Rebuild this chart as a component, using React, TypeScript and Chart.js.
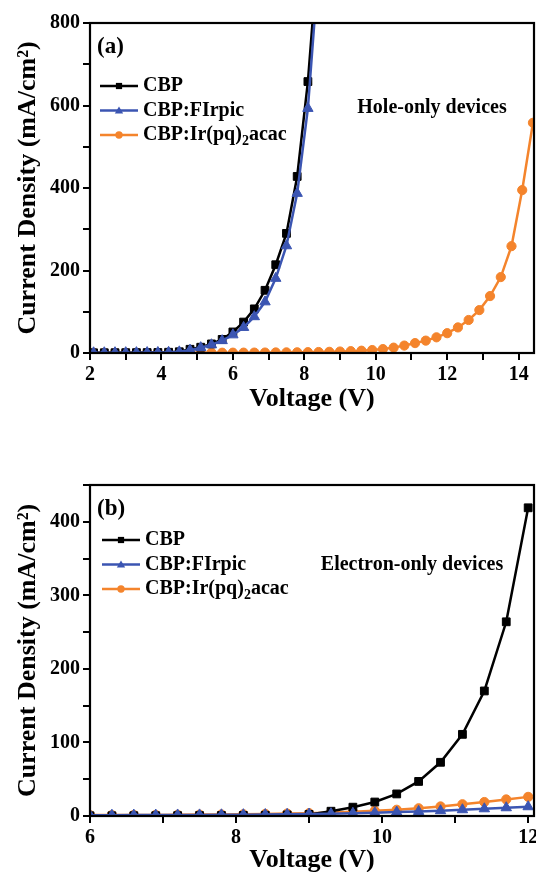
import React, { useEffect, useRef } from "react";
import { Chart, registerables } from "chart.js";

Chart.register(...registerables);

const FAMILY = "'Liberation Serif', 'Times New Roman', serif";

// ---------- Panel (a): hole-only devices ----------
const voltsA_CBP = [2.1, 2.4, 2.7, 3.0, 3.3, 3.6, 3.9, 4.2, 4.5, 4.8, 5.1, 5.4, 5.7, 6.0, 6.3, 6.6, 6.9, 7.2, 7.5, 7.8, 8.1, 8.4];
const holeCBP = [0.5, 0.6, 0.7, 0.8, 0.9, 1.0, 1.2, 1.8, 3, 9, 14, 22, 33, 51, 75, 107, 152, 214, 290, 428, 658, 990];
const holeFIrpic = [0.5, 0.6, 0.7, 0.8, 0.9, 1.0, 1.2, 1.7, 2.8, 7, 13, 20, 30, 44, 62, 88, 124, 181, 260, 387, 593, 938];
const voltsA_Ir = [2.1, 2.4, 2.7, 3.0, 3.3, 3.6, 3.9, 4.2, 4.5, 4.8, 5.1, 5.4, 5.7, 6.0, 6.3, 6.6, 6.9, 7.2, 7.5, 7.8, 8.1, 8.4, 8.7, 9.0, 9.3, 9.6, 9.9, 10.2, 10.5, 10.8, 11.1, 11.4, 11.7, 12.0, 12.3, 12.6, 12.9, 13.2, 13.5, 13.8, 14.1, 14.4];
const holeIr = [0.3, 0.3, 0.3, 0.3, 0.3, 0.4, 0.4, 0.4, 0.5, 0.5, 0.6, 0.6, 0.7, 0.8, 0.9, 1.0, 1.1, 1.3, 1.5, 1.7, 2.0, 2.4, 2.9, 3.6, 4.5, 5.6, 7.2, 9.5, 13, 18, 24, 30, 38, 48, 62, 80, 104, 138, 184, 259, 395, 558];

// ---------- Panel (b): electron-only devices ----------
const voltsB = [6.0, 6.3, 6.6, 6.9, 7.2, 7.5, 7.8, 8.1, 8.4, 8.7, 9.0, 9.3, 9.6, 9.9, 10.2, 10.5, 10.8, 11.1, 11.4, 11.7, 12.0];
const elecCBP = [0.3, 0.3, 0.4, 0.4, 0.5, 0.6, 0.7, 0.8, 1.0, 1.4, 2.2, 6.5, 12, 19, 30, 47, 73, 111, 170, 264, 419];
const elecFIrpic = [1.0, 1.1, 1.2, 1.3, 1.4, 1.5, 1.6, 1.8, 2.0, 2.3, 2.7, 3.1, 3.7, 4.4, 5.3, 6.2, 7.2, 8.5, 9.8, 11.2, 12.6];
const elecIr = [1.2, 1.3, 1.4, 1.5, 1.7, 1.9, 2.1, 2.4, 2.8, 3.3, 3.9, 4.7, 5.7, 7.0, 8.5, 10.5, 13, 16, 19, 22.5, 26];

const seriesNames = ["CBP", "CBP:FIrpic", "CBP:Ir(pq)\u2082acac"];
const seriesColors = ["#000000", "#3B55B2", "#F4842C"];
const seriesStyles = ["rect", "triangle", "circle"];
const seriesRadius = [5.5, 6, 4.6];
const seriesOrder = [2, 1, 3];

const xTitle = "Voltage (V)";
const yTitle = "Current Density (mA/cm\u00B2)";

function pts(xs: number[], ys: number[]) {
  return xs.map((x, i) => ({ x, y: ys[i] }));
}

function drawMarker(ctx: CanvasRenderingContext2D, style: string, x: number, y: number, r: number) {
  ctx.beginPath();
  if (style === "rect") {
    const s = Math.SQRT1_2 * r;
    ctx.rect(x - s, y - s, 2 * s, 2 * s);
  } else if (style === "triangle") {
    const a = (Math.PI * 2) / 3;
    for (let k = 0; k < 3; k++) {
      const ang = -Math.PI / 2 + k * a;
      const px = x + Math.cos(ang) * r;
      const py = y + Math.sin(ang) * r + r * 0.15;
      if (k === 0) ctx.moveTo(px, py);
      else ctx.lineTo(px, py);
    }
    ctx.closePath();
  } else {
    ctx.arc(x, y, r, 0, Math.PI * 2);
  }
  ctx.fill();
}

function drawRich(ctx: CanvasRenderingContext2D, text: string, x: number, y: number, size: number) {
  const parts = text.split("\u2082");
  let cx = x;
  parts.forEach((p, i) => {
    ctx.font = `bold ${size}px ${FAMILY}`;
    ctx.fillText(p, cx, y);
    cx += ctx.measureText(p).width;
    if (i < parts.length - 1) {
      ctx.font = `bold ${Math.round(size * 0.68)}px ${FAMILY}`;
      ctx.fillText("2", cx, y + size * 0.32);
      cx += ctx.measureText("2").width;
    }
  });
}

const decorPlugin = {
  id: "decor",
  afterDraw(chart: any, _args: any, opts: any) {
    const { ctx, chartArea } = chart;
    const { left, top, right, bottom } = chartArea;
    ctx.save();
    ctx.strokeStyle = "#000";
    ctx.lineWidth = 2.2;
    ctx.strokeRect(left, top, right - left, bottom - top);

    ctx.fillStyle = "#000";
    ctx.textBaseline = "middle";
    ctx.textAlign = "left";
    ctx.font = `bold 23px ${FAMILY}`;
    ctx.fillText(opts.panel, left + opts.panelX, top + opts.panelY);

    ctx.textAlign = "center";
    ctx.font = `bold 20px ${FAMILY}`;
    ctx.fillText(opts.note, left + opts.noteX, top + opts.noteY);

    ctx.textAlign = "left";
    chart.data.datasets.forEach((ds: any, i: number) => {
      const y = top + opts.legendY + i * opts.legendGap;
      const x0 = left + opts.legendX;
      const x1 = x0 + 38;
      ctx.strokeStyle = ds.borderColor;
      ctx.lineWidth = 2.5;
      ctx.beginPath();
      ctx.moveTo(x0, y);
      ctx.lineTo(x1, y);
      ctx.stroke();
      ctx.fillStyle = ds.borderColor;
      drawMarker(ctx, ds.pointStyle, (x0 + x1) / 2, y, ds.pointRadius * 0.8);
      ctx.fillStyle = "#000";
      drawRich(ctx, ds.label, x1 + 5, y, 20);
    });
    ctx.restore();
  },
};

function makeDatasets(sets: { xs: number[]; ys: number[] }[]) {
  return sets.map((s, i) => ({
    label: seriesNames[i],
    data: pts(s.xs, s.ys),
    borderColor: seriesColors[i],
    backgroundColor: seriesColors[i],
    pointBackgroundColor: seriesColors[i],
    pointBorderColor: seriesColors[i],
    pointBorderWidth: 1,
    pointStyle: seriesStyles[i],
    pointRadius: seriesRadius[i],
    borderWidth: 2.5,
    tension: 0,
    order: seriesOrder[i],
  }));
}

const zeroPad = () => ({ left: 0, top: 0, right: 0, bottom: 0 });

// canvas is a bit wider than the page so the plot's right edge lands at x=534
const CANVAS_W = 543;
const PAD_RIGHT = 9;

function makeOptions(cfg: {
  xmin: number; xmax: number; ymax: number; ystep: number; ylabelEvery: number;
  xAxisH: number; xTitlePad: number; padTop: number; decor: any;
}) {
  const tickFont = { family: FAMILY, size: 20, weight: "bold" as const };
  const titleFont = { family: FAMILY, size: 26, weight: "bold" as const };
  return {
    responsive: false,
    maintainAspectRatio: false,
    animation: false as const,
    layout: { padding: { top: cfg.padTop, right: PAD_RIGHT, left: 0, bottom: 0 } },
    plugins: {
      legend: { display: false },
      tooltip: { enabled: false },
      decor: cfg.decor,
    },
    scales: {
      x: {
        type: "linear" as const,
        position: "bottom" as const,
        min: cfg.xmin,
        max: cfg.xmax,
        ticks: {
          stepSize: 1,
          autoSkip: false,
          maxRotation: 0,
          includeBounds: false,
          padding: 3,
          color: "#000",
          font: tickFont,
          callback: (v: any) => (Math.abs(v % 2) < 1e-9 ? String(v) : ""),
        },
        grid: { drawOnChartArea: false, drawTicks: true, tickLength: 7, color: "#000", lineWidth: 2 },
        border: { display: true, color: "#000", width: 2 },
        title: { display: true, text: xTitle, color: "#000", font: titleFont, padding: { top: 0, bottom: cfg.xTitlePad } },
        afterFit: (s: any) => {
          s.height = cfg.xAxisH;
          s.paddingLeft = 0;
          s.paddingRight = 0;
          s.paddingTop = 0;
          s.paddingBottom = 0;
          s.getPadding = zeroPad;
        },
      },
      y: {
        type: "linear" as const,
        position: "left" as const,
        min: 0,
        max: cfg.ymax,
        ticks: {
          stepSize: cfg.ystep,
          autoSkip: false,
          padding: 3,
          color: "#000",
          font: tickFont,
          callback: (v: any) => (Math.abs(v % cfg.ylabelEvery) < 1e-9 ? String(v) : ""),
        },
        grid: { drawOnChartArea: false, drawTicks: true, tickLength: 7, color: "#000", lineWidth: 2 },
        border: { display: true, color: "#000", width: 2 },
        title: { display: true, text: yTitle, color: "#000", font: titleFont, padding: { top: 13, bottom: 0 } },
        afterFit: (s: any) => {
          s.width = 90;
          s.paddingLeft = 0;
          s.paddingRight = 0;
          s.paddingTop = 0;
          s.paddingBottom = 0;
          s.getPadding = zeroPad;
        },
      },
    },
  };
}

export default function App() {
  const refA = useRef<HTMLCanvasElement>(null);
  const refB = useRef<HTMLCanvasElement>(null);

  useEffect(() => {
    const chartA = new Chart(refA.current as HTMLCanvasElement, {
      type: "line",
      data: {
        datasets: makeDatasets([
          { xs: voltsA_CBP, ys: holeCBP },
          { xs: voltsA_CBP, ys: holeFIrpic },
          { xs: voltsA_Ir, ys: holeIr },
        ]) as any,
      },
      options: makeOptions({
        xmin: 2, xmax: 14.43, ymax: 800, ystep: 100, ylabelEvery: 200,
        xAxisH: 83, xTitlePad: 21, padTop: 23,
        decor: {
          panel: "(a)", panelX: 7, panelY: 24,
          note: "Hole-only devices", noteX: 342, noteY: 85,
          legendX: 10, legendY: 63, legendGap: 24.5,
        },
      }) as any,
      plugins: [decorPlugin],
    });

    const chartB = new Chart(refB.current as HTMLCanvasElement, {
      type: "line",
      data: {
        datasets: makeDatasets([
          { xs: voltsB, ys: elecCBP },
          { xs: voltsB, ys: elecFIrpic },
          { xs: voltsB, ys: elecIr },
        ]) as any,
      },
      options: makeOptions({
        xmin: 6, xmax: 12.08, ymax: 450, ystep: 50, ylabelEvery: 100,
        xAxisH: 80, xTitlePad: 20, padTop: 49,
        decor: {
          panel: "(b)", panelX: 7, panelY: 24,
          note: "Electron-only devices", noteX: 322, noteY: 80,
          legendX: 12, legendY: 55, legendGap: 24.5,
        },
      }) as any,
      plugins: [decorPlugin],
    });

    return () => {
      chartA.destroy();
      chartB.destroy();
    };
  }, []);

  return (
    <div style={{ position: "absolute", left: 0, top: 0, width: 536, height: 872, overflow: "hidden", background: "#fff" }}>
      <canvas ref={refA} width={CANVAS_W} height={436} style={{ position: "absolute", left: 0, top: 0 }} />
      <canvas ref={refB} width={CANVAS_W} height={460} style={{ position: "absolute", left: 0, top: 436 }} />
    </div>
  );
}
